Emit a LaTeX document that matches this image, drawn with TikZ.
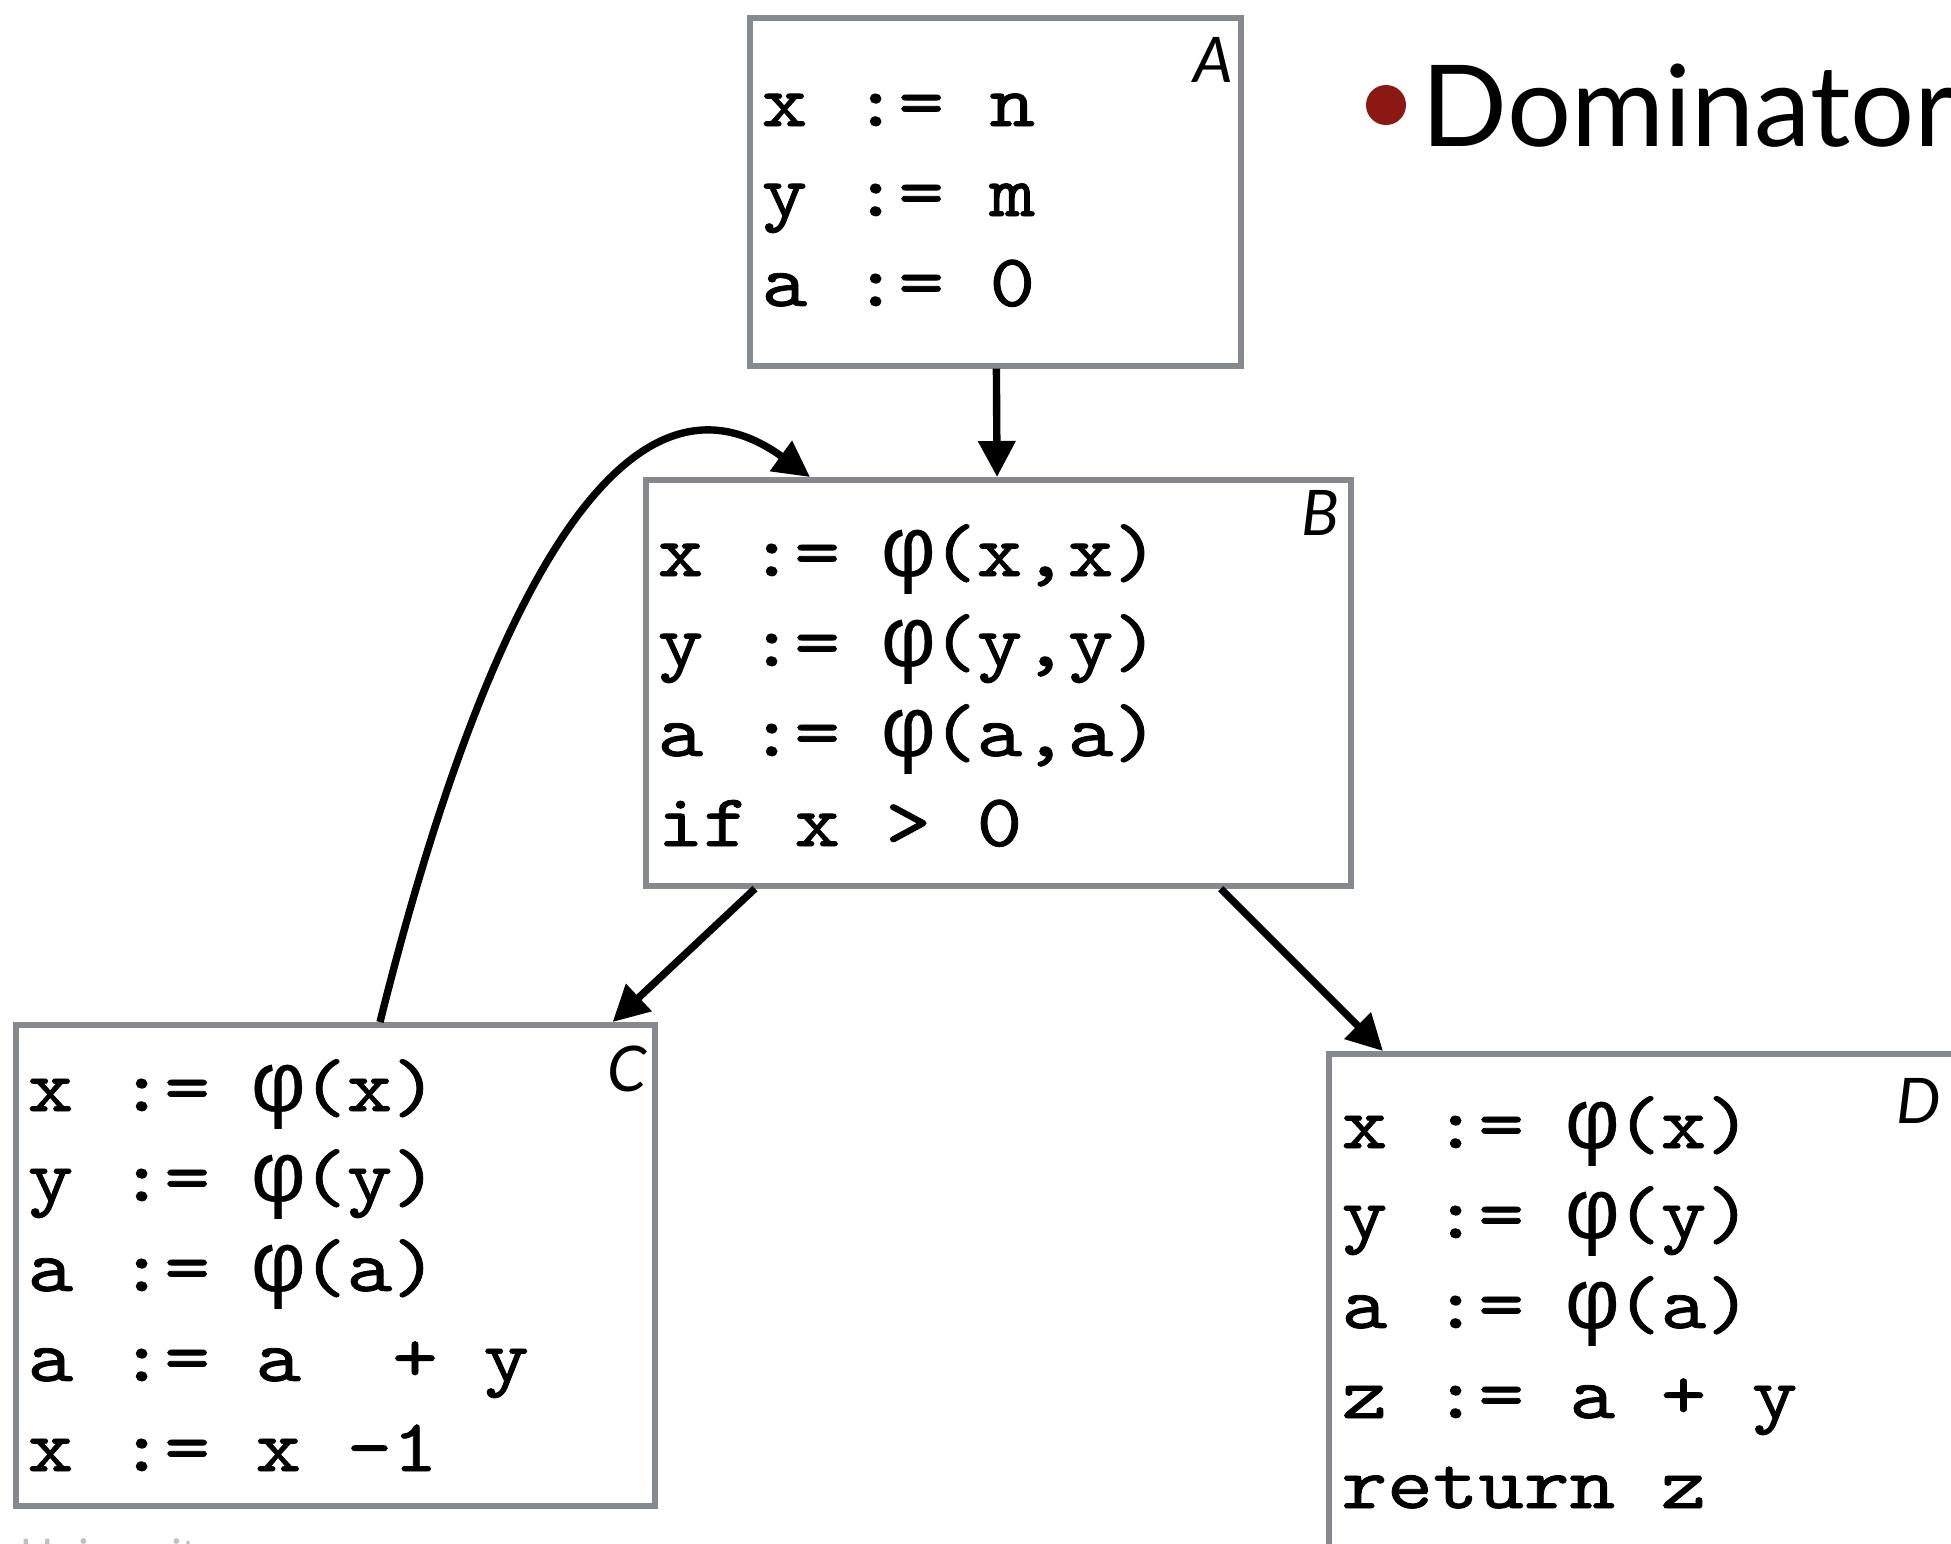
\documentclass[tikz,border=0pt]{standalone}
\usepackage{fontspec}
\usetikzlibrary{arrows.meta}
\newfontfamily\codefont{lmmono10-regular.otf}[FakeStretch=1.165,FakeBold=1.1]
\newfontfamily\phifont{Liberation Mono}[Scale=1.15,FakeBold=0.4]
\newfontfamily\slidefont{Lato}
\definecolor{boxgray}{RGB}{134,138,143}
\definecolor{bulletred}{RGB}{140,24,20}
\def\pitch{12.97pt}
\def\gphi{\makebox[\pitch]{\phifont φ}}

\begin{document}
\begin{tikzpicture}[
    blk/.style={draw=boxgray,line width=1.6pt,inner sep=0pt,anchor=north west},
    code/.style={font=\codefont\fontsize{21.2}{25}\selectfont,anchor=base west,inner sep=0pt},
    lbl/.style={font=\slidefont\itshape\fontsize{17.9}{21}\selectfont,anchor=base east,inner sep=0pt},
    flow/.style={-{Triangle[length=0.36cm,width=0.36cm]},line width=2.1pt}]

    \useasboundingbox (0,0) rectangle (19.51,-15.43);

    \node[blk,minimum width=4.91cm,minimum height=3.48cm] (A) at (7.47,-0.15) {};
    \node[blk,minimum width=7.05cm,minimum height=4.06cm] (B) at (6.43,-4.77) {};
    \node[blk,minimum width=6.39cm,minimum height=4.81cm] (C) at (0.13,-10.22) {};
    \node[blk,minimum width=7cm,minimum height=5.6cm] (D) at (13.26,-10.51) {};

    \node[lbl] (Alab) at ([shift={(-0.10,-0.67)}]A.north east) {A};
    \node[lbl] (Blab) at ([shift={(-0.14,-0.58)}]B.north east) {B};
    \node[lbl] (Clab) at ([shift={(-0.10,-0.69)}]C.north east) {C};
    \node[lbl] (Dlab) at ([shift={(6.16,-0.72)}]D.north west) {D};

    \foreach \stmt [count=\i] in {x := n, y := m, a := 0}
        \node[code] (A-\i) at ([shift={(0.14,-0.21-0.9*\i)}]A.north west) {\stmt};
    \foreach \stmt [count=\i] in {{x := \gphi(x,x)}, {y := \gphi(y,y)}, {a := \gphi(a,a)}, {if x > 0}}
        \node[code] (B-\i) at ([shift={(0.14,-0.09-0.9*\i)}]B.north west) {\stmt};
    \foreach \stmt [count=\i] in {{x := \gphi(x)}, {y := \gphi(y)}, {a := \gphi(a)}, {a := a\ \ + y}, {x := x -1}}
        \node[code] (C-\i) at ([shift={(0.14,0.01-0.9*\i)}]C.north west) {\stmt};
    \foreach \stmt [count=\i] in {{x := \gphi(x)}, {y := \gphi(y)}, {a := \gphi(a)}, {z := a + y}, {return z}}
        \node[code] (D-\i) at ([shift={(0.15,-0.07-0.9*\i)}]D.north west) {\stmt};

    \draw[flow] (A) -- (B);
    \draw[flow] ([xshift=1.12cm]B.south west) -- ([xshift=-0.45cm]C.north east);
    \draw[flow] ([xshift=-1.33cm]B.south east) -- ([xshift=0.57cm]D.north west);
    \draw[flow] ([xshift=3.67cm]C.north west) .. controls +(76:4.6) and +(144:2.2) .. ([xshift=1.67cm]B.north west);

    \fill[bulletred] (13.86,-1.05) circle (0.2);
    \node[anchor=base west,inner sep=0pt,font=\slidefont\fontsize{32.2}{38}\selectfont] (title) at (14.21,-1.46) {Dominator};
    \node[anchor=base west,inner sep=0pt,text=black!25,font=\slidefont\fontsize{12.8}{15}\selectfont] (foot) at (0.20,-15.71) {University};

\end{tikzpicture}
\end{document}
